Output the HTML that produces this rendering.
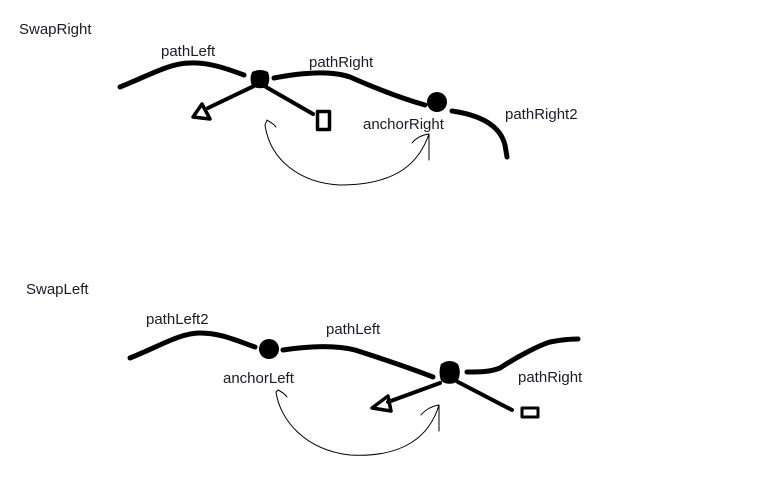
<!DOCTYPE html>
<html><head><meta charset="utf-8"><style>
html,body{margin:0;padding:0;background:#fff;width:783px;height:482px;overflow:hidden}
svg{display:block}
text{font-family:"Liberation Sans",sans-serif;font-size:15px;fill:#1a1a2a}
</style></head><body>
<svg width="783" height="482" viewBox="0 0 783 482" xmlns="http://www.w3.org/2000/svg">
<g fill="none" stroke="#000" stroke-linecap="round" stroke-linejoin="round">
<!-- top -->
<path d="M120,87 C150,75 170,63 190,63 C210,62 230,70 244,75" stroke-width="5"/>
<path d="M274,78 C300,73 330,70 350,77 C375,88 400,98 425,105" stroke-width="5"/>
<path d="M452,111 C480,115 500,125 505,145 L507,157" stroke-width="5"/>
<path d="M256,85 L208,108" stroke-width="4"/>
<path d="M193,117 L202,104 L210,119 Z" stroke-width="3.5"/>
<path d="M266,87 L313,114" stroke-width="4"/>
<rect x="317.5" y="111.5" width="12" height="18" stroke-width="3.5" stroke-linecap="butt"/>
<path d="M429,160 L429,134" stroke-width="1"/>
<path d="M429,134 C420,160 400,185 340,185 C300,183 270,160 265,125 L267,120 C270,122 274,124 276,127" stroke-width="1"/>
<path d="M412,143 C416,138 422,135 429,134" stroke-width="1"/>
<!-- bottom -->
<path d="M130,358 C160,346 180,333 200,333 C220,333 235,340 255,347" stroke-width="5"/>
<path d="M283,350 C310,346 335,345 355,350 C380,358 410,368 433,377" stroke-width="5"/>
<path d="M467,372 C480,372 490,372 500,368 C520,355 540,345 550,342 C560,340 570,339 578,339" stroke-width="5"/>
<path d="M440,383 L388,402" stroke-width="4"/>
<path d="M372,408 L388,396 L391,411 Z" stroke-width="3.5"/>
<path d="M458,382 L512,410" stroke-width="4"/>
<rect x="522" y="408" width="16" height="9" stroke-width="3" stroke-linecap="butt"/>
<path d="M439,431 L439,405" stroke-width="1"/>
<path d="M439,405 C430,435 405,458 350,455 C305,450 280,420 276,392 L278,390 C282,392 285,394 287,397" stroke-width="1"/>
<path d="M421,415 C425,410 432,406 439,405" stroke-width="1"/>
</g>
<g fill="#000">
<path d="M252,72 Q260,68 268,72 Q271,80 267,87 Q259,90 252,86 Q249,79 252,72 Z"/>
<circle cx="437" cy="102" r="10"/>
<circle cx="269" cy="349" r="10"/>
<path d="M441,364 Q450,358 458,364 Q462,374 457,382 Q448,386 441,381 Q438,372 441,364 Z"/>
</g>
<text x="19" y="34">SwapRight</text>
<text x="161" y="56">pathLeft</text>
<text x="309" y="67">pathRight</text>
<text x="363" y="129">anchorRight</text>
<text x="505" y="119">pathRight2</text>
<text x="26" y="294">SwapLeft</text>
<text x="146" y="324">pathLeft2</text>
<text x="326" y="334">pathLeft</text>
<text x="223" y="383">anchorLeft</text>
<text x="518" y="382">pathRight</text>
</svg>
</body></html>
